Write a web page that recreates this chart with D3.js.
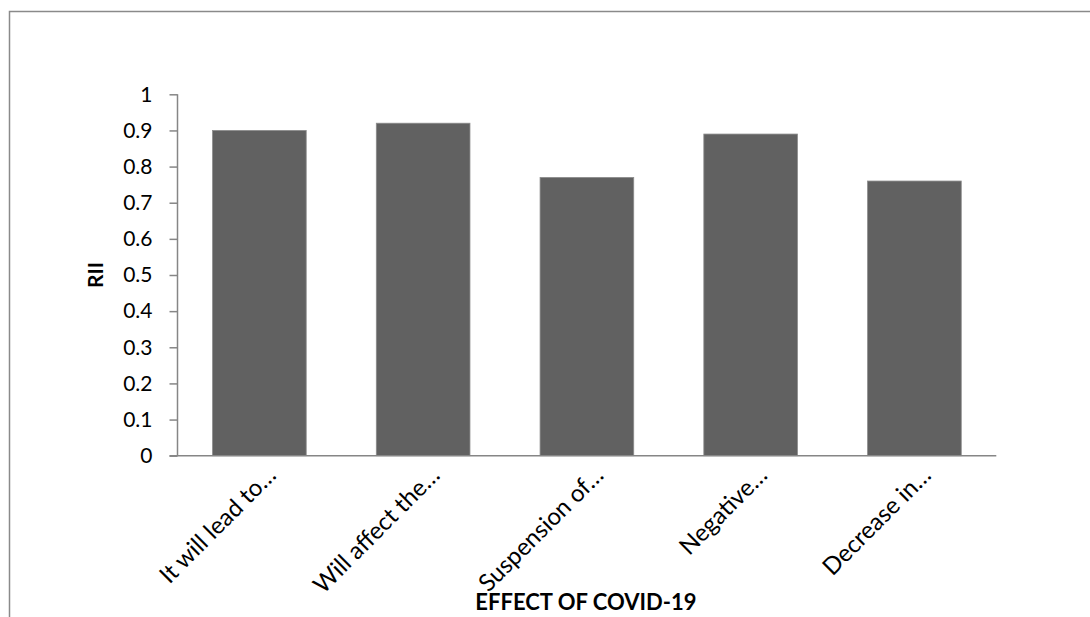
<!DOCTYPE html>
<html><head><meta charset="utf-8">
<script src="https://cdn.jsdelivr.net/npm/d3@7"></script>
<style>body{margin:0;background:#fff}svg{display:block}</style>
</head><body>
<svg id="c" width="1090" height="617"></svg>
<script>
const categories = ["It will lead to…", "Will affect the…", "Suspension of…", "Negative…", "Decrease in…"];
const rii = [0.90, 0.92, 0.77, 0.89, 0.76];
const yTicks = [0, 0.1, 0.2, 0.3, 0.4, 0.5, 0.6, 0.7, 0.8, 0.9, 1];
const yTickLabels = ["0", "0.1", "0.2", "0.3", "0.4", "0.5", "0.6", "0.7", "0.8", "0.9", "1"];
const xTitle = "EFFECT OF COVID-19";
const yTitle = "RII";

const svg = d3.select("#c");
const font = "Lato, 'Open Sans', sans-serif";
const axisColor = "#868686";

// outer chart border (top and left visible)
svg.append("path").attr("d", "M9.5,620 V11.5 H1095").attr("fill", "none")
  .attr("stroke", "#8a8a8a").attr("stroke-width", 1.5);

const x0 = 177.5, x1 = 996.3, yTop = 94.3, yBot = 455.7;
const x = d3.scaleBand().domain(categories).range([x0, x1]).paddingInner(0.428).paddingOuter(0.214);
const y = d3.scaleLinear().domain([0, 1]).range([yBot, yTop]);

// bars
svg.append("g").selectAll("rect").data(categories).join("rect")
  .attr("x", d => x(d)).attr("width", x.bandwidth())
  .attr("y", (d, i) => y(rii[i])).attr("height", (d, i) => yBot - y(rii[i]))
  .attr("fill", "#616161").attr("stroke", "#8c8c8c").attr("stroke-width", 0.8);

// y axis
const yAxis = d3.axisLeft(y).tickValues(yTicks).tickFormat((d, i) => yTickLabels[i]).tickSize(8).tickPadding(17);
const gy = svg.append("g").attr("transform", `translate(${x0},0)`).call(yAxis);
gy.select(".domain").attr("stroke", axisColor).attr("stroke-width", 1.5).attr("d", `M-0,${yTop}V${yBot}`);
gy.selectAll(".tick line").attr("stroke", axisColor).attr("stroke-width", 1.5);
gy.selectAll(".tick text").attr("font-family", font).attr("font-size", 21).attr("fill", "#000");

// x axis
const xAxis = d3.axisBottom(x).tickSize(0).tickPadding(0);
const gx = svg.append("g").attr("transform", `translate(0,${yBot})`).call(xAxis);
gx.select(".domain").attr("stroke", axisColor).attr("stroke-width", 1.5).attr("d", `M${x0 - 8},0H${x1}`);
gx.selectAll(".tick text")
  .attr("font-family", font).attr("font-size", 24).attr("fill", "#000")
  .attr("text-anchor", "end")
  .attr("transform", "translate(18,21) rotate(-45)")
  .attr("dy", "0").attr("y", 0).attr("x", 0);

// axis titles
svg.append("text").attr("x", (x0 + x1) / 2 - 1).attr("y", 610)
  .attr("text-anchor", "middle").attr("font-family", font).attr("font-weight", "bold")
  .attr("font-size", 22).attr("fill", "#000").text(xTitle);
svg.append("text").attr("transform", `translate(103,275) rotate(-90)`)
  .attr("text-anchor", "middle").attr("font-family", font).attr("font-weight", "bold")
  .attr("font-size", 21).attr("fill", "#000").text(yTitle);
</script>
</body></html>
